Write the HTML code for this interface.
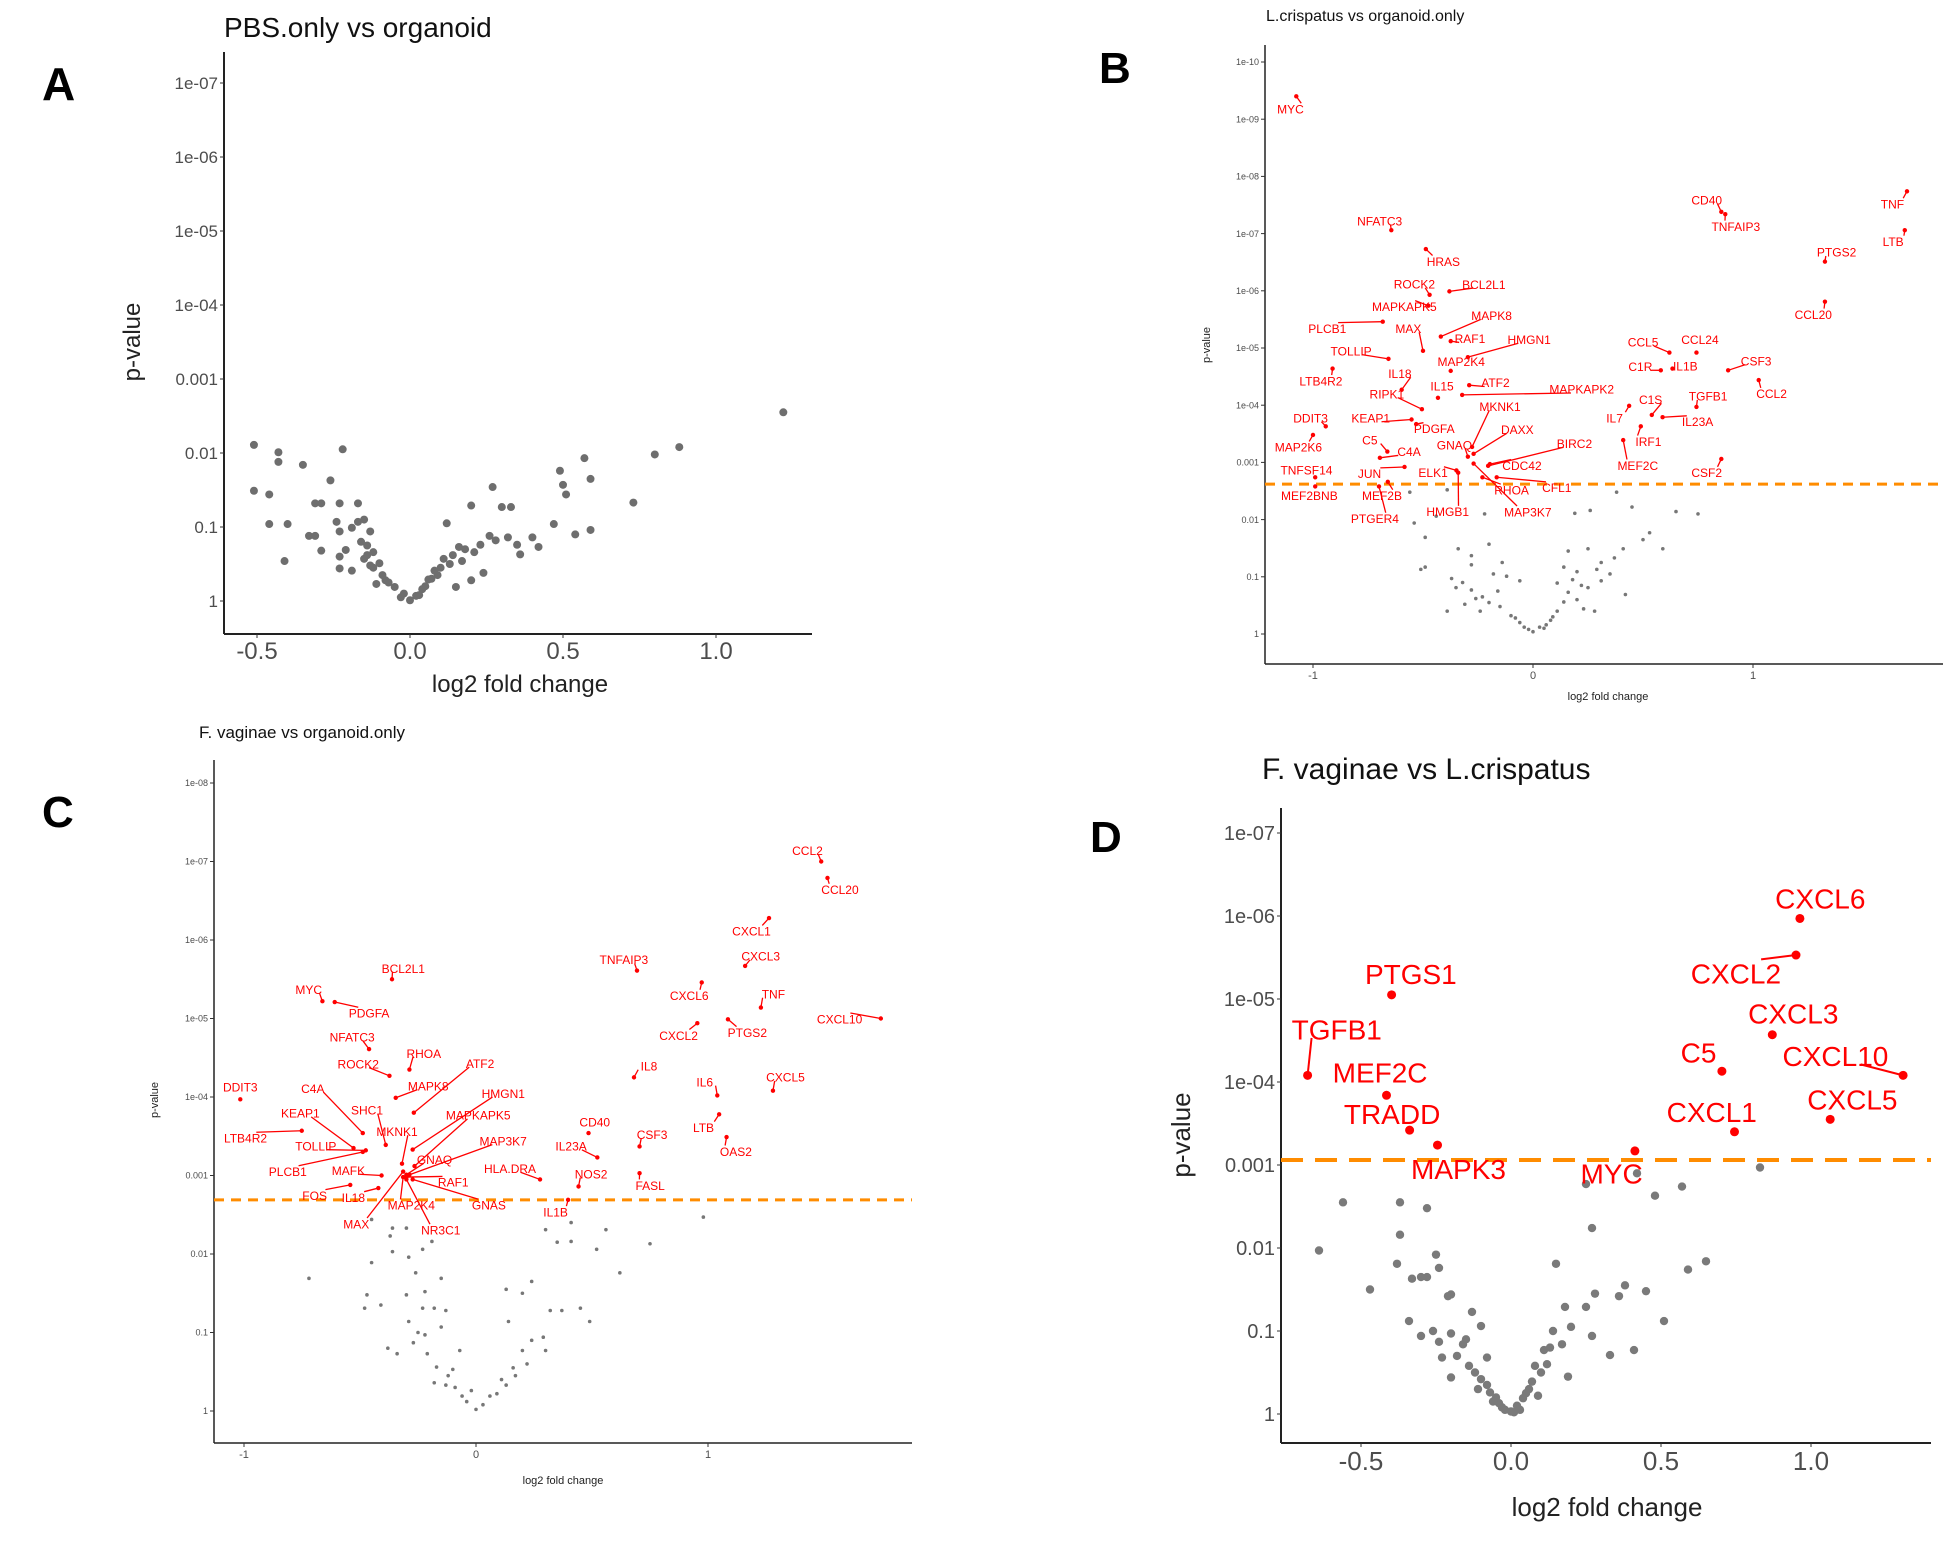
<!DOCTYPE html>
<html><head><meta charset="utf-8">
<style>
html,body{margin:0;padding:0;background:#fff;}
svg{display:block;font-family:"Liberation Sans",Arial,sans-serif;}
</style></head>
<body>
<svg id="fig" width="1950" height="1541" viewBox="0 0 1950 1541" xmlns="http://www.w3.org/2000/svg">
<rect x="0" y="0" width="1950" height="1541" fill="#fff"/>
<text x="42" y="100" font-size="46" font-weight="bold">A</text>
<text x="1099" y="83" font-size="44" font-weight="bold">B</text>
<text x="42" y="827" font-size="44" font-weight="bold">C</text>
<text x="1090" y="852" font-size="44" font-weight="bold">D</text>
<text x="224" y="37" font-size="28" fill="#111">PBS.only vs organoid</text>
<text x="1266" y="21" font-size="16" fill="#111">L.crispatus vs organoid.only</text>
<text x="199" y="738" font-size="17" fill="#111">F. vaginae vs organoid.only</text>
<text x="1262" y="779" font-size="30" fill="#111">F. vaginae vs L.crispatus</text>
</svg>
<script>
// ---------- Panel A data ----------
const aFc = [1.22,0.88,0.8,0.57,0.59,0.49,0.5,0.51,0.73,0.27,0.3,0.33,0.2,0.12,0.47,0.54,0.59,0.26,0.28,0.32,0.35,0.4,0.42,0.36,0.23,0.21,0.16,0.17,0.15,0.2,0.24,0.11,0.08,0.06,0.04,0.02,0,-0.02,-0.05,-0.08,-0.11,-0.1,-0.12,-0.15,-0.13,-0.19,-0.23,-0.21,-0.23,-0.29,-0.31,-0.33,-0.24,-0.23,-0.19,-0.17,-0.15,-0.13,-0.23,-0.17,-0.31,-0.29,-0.26,-0.22,-0.35,-0.43,-0.43,-0.51,-0.51,-0.46,-0.46,-0.4,-0.41,-0.07,-0.09,-0.12,-0.14,0.05,0.07,0.1,0.13,-0.03,0.03,-0.14,-0.16,0.09,0.14,0.18];
const aNlp = [2.55,2.08,1.98,1.93,1.65,1.76,1.57,1.44,1.33,1.54,1.27,1.27,1.29,1.05,1.04,0.9,0.96,0.88,0.82,0.86,0.76,0.86,0.73,0.63,0.76,0.66,0.73,0.54,0.19,0.28,0.38,0.57,0.41,0.29,0.16,0.07,0.01,0.1,0.19,0.28,0.23,0.51,0.66,0.57,0.48,0.41,0.6,0.69,0.44,0.68,0.88,0.88,1.07,0.94,0.99,1.07,1.1,0.94,1.32,1.32,1.32,1.32,1.63,2.05,1.84,2.01,1.88,2.11,1.49,1.44,1.04,1.04,0.54,0.25,0.35,0.45,0.62,0.2,0.3,0.45,0.5,0.05,0.08,0.75,0.8,0.35,0.62,0.7];
const aXTicks = [-0.5,0,0.5,1.0];
const aXTickLabels = ["-0.5","0.0","0.5","1.0"];
const aYTicks = [0,1,2,3,4,5,6,7];
const aYTickLabels = ["1","0.1","0.01","0.001","1e-04","1e-05","1e-06","1e-07"];

// ---------- Panel B data ----------
const bGrayFc = [-0.56,-0.39,0.26,0.19,0.38,0.45,0.65,0.75,-0.49,-0.49,-0.34,-0.28,-0.28,-0.14,-0.12,-0.18,-0.37,-0.35,-0.28,-0.31,-0.23,-0.24,-0.15,-0.1,-0.06,-0.02,0.03,0.08,0.11,0.14,0.16,0.2,0.23,0.28,0.25,0.31,0.29,0.42,0.41,0.5,0.53,0.59,0.25,0.16,0.14,0.37,0.31,-0.54,-0.44,-0.22,-0.2,-0.06,0.11,-0.39,-0.51,0.2,0.0,0.06,-0.08,-0.04,0.05,0.09,-0.2,-0.26,0.18,0.22,-0.32,-0.16,0.35];
const bGrayNlp = [2.48,2.52,2.16,2.11,2.48,2.22,2.14,2.1,1.69,1.17,1.49,1.37,1.21,1.25,1.01,1.05,0.97,0.81,0.77,0.52,0.65,0.4,0.48,0.32,0.2,0.08,0.12,0.24,0.4,0.56,0.73,0.6,0.44,0.4,0.81,0.93,1.13,0.69,1.49,1.65,1.77,1.49,1.49,1.45,1.17,1.33,1.25,1.94,2.06,2.1,1.57,0.93,0.89,0.4,1.13,1.09,0.04,0.16,0.28,0.12,0.1,0.3,0.55,0.62,0.95,0.85,0.9,0.75,1.05];
const bGenes = ["MYC","NFATC3","HRAS","ROCK2","BCL2L1","MAPKAPK5","MAPK8","PLCB1","MAX","RAF1","HMGN1","TOLLIP","MAP2K4","IL18","LTB4R2","IL15","ATF2","MAPKAPK2","RIPK1","MKNK1","DDIT3","KEAP1","PDGFA","DAXX","MAP2K6","C5","C4A","GNAQ","BIRC2","TNFSF14","JUN","ELK1","CDC42","RHOA","CFL1","MEF2BNB","MEF2B","PTGER4","HMGB1","MAP3K7","CD40","TNFAIP3","TNF","LTB","PTGS2","CCL20","CCL5","CCL24","CSF3","C1R","IL1B","CCL2","TGFB1","C1S","IL7","IL23A","IRF1","MEF2C","CSF2"];
const bSigFc = [-1.076,-0.644,-0.487,-0.47,-0.38,-0.476,-0.419,-0.683,-0.5,-0.374,-0.296,-0.657,-0.374,-0.597,-0.911,-0.432,-0.29,-0.322,-0.505,-0.277,-0.942,-0.552,-0.531,-0.27,-1.0,-0.662,-0.696,-0.296,-0.204,-0.99,-0.584,-0.348,-0.196,-0.23,-0.165,-0.99,-0.66,-0.7,-0.34,-0.27,0.856,0.874,1.7,1.69,1.327,1.327,0.62,0.743,0.887,0.581,0.634,1.026,0.743,0.54,0.437,0.589,0.49,0.41,0.856];
const bSigNlp = [9.4,7.06,6.73,5.93,5.99,5.74,5.2,5.46,4.95,5.12,4.84,4.81,4.6,4.27,4.64,4.13,4.35,4.18,3.93,3.27,3.63,3.75,3.67,3.15,3.48,3.19,3.08,3.1,2.94,2.74,2.92,2.86,2.97,2.74,2.74,2.58,2.66,2.58,2.82,2.98,7.38,7.34,7.74,7.06,6.51,5.81,4.92,4.92,4.61,4.61,4.64,4.44,3.97,3.83,3.99,3.79,3.63,3.39,3.06];
const bLabOff = [[-10,28],[-20,-20],[30,27],[-26,-23],[59,-15],[-41,2],[87,-45],[-95,15],[-25,-48],[33,-5],[105,-38],[-64,-17],[18,-20],[-3,-35],[-20,27],[7,-25],[45,-5],[205,-12],[-60,-33],[48,-87],[-26,-18],[-70,-3],[31,10],[75,-52],[-25,27],[-30,-25],[50,-13],[-23,-25],[148,-48],[-15,-15],[-60,15],[-40,5],[55,3],[50,28],[103,23],[-10,20],[-10,30],[-7,70],[-18,85],[93,105],[-25,-25],[18,27],[-25,28],[-20,25],[20,-20],[-20,28],[-45,-22],[6,-28],[48,-20],[-35,-8],[22,-5],[22,30],[20,-23],[-2,-33],[-25,27],[60,10],[13,33],[25,55],[-25,30]];
const bXTicks = [-1,0,1];
const bXTickLabels = ["-1","0","1"];
const bYTicks = [0,1,2,3,4,5,6,7,8,9,10];
const bYTickLabels = ["1","0.1","0.01","0.001","1e-04","1e-05","1e-06","1e-07","1e-08","1e-09","1e-10"];
const bThreshold = [2.62];

// ---------- Panel C data ----------
const cGrayFc = [-0.72,-0.45,-0.36,-0.36,-0.29,-0.23,-0.26,-0.15,-0.47,-0.48,-0.41,-0.3,-0.22,-0.23,-0.18,-0.13,-0.29,-0.15,-0.38,-0.34,-0.27,-0.21,-0.07,-0.17,-0.1,-0.13,-0.06,0,0.06,0.13,0.17,0.22,0.2,0.29,0.3,0.14,0.32,0.37,0.45,0.49,0.13,0.2,0.24,0.62,0.75,0.52,0.35,0.41,0.3,0.56,0.41,0.98,-0.37,-0.19,-0.3,-0.45,-0.22,-0.02,-0.18,-0.09,-0.04,0.03,0.09,0.11,-0.12,-0.25,0.24,0.16];
const cGrayNlp = [1.69,1.89,2.33,2.03,1.96,2.06,1.76,1.69,1.48,1.31,1.35,1.48,1.52,1.31,1.31,1.28,1.14,1.07,0.8,0.73,0.87,0.73,0.77,0.56,0.53,0.33,0.19,0.02,0.19,0.33,0.45,0.6,0.77,0.94,0.77,1.14,1.28,1.28,1.31,1.14,1.55,1.5,1.65,1.76,2.13,2.06,2.15,2.16,2.31,2.31,2.4,2.47,2.23,2.16,2.33,2.44,0.97,0.26,0.36,0.3,0.12,0.08,0.22,0.4,0.45,1.0,0.9,0.55];
const cGenes = ["CCL2","CCL20","CXCL1","CXCL3","TNFAIP3","CXCL6","TNF","CXCL10","PTGS2","CXCL2","IL8","IL6","CXCL5","LTB","OAS2","CD40","CSF3","IL23A","NOS2","FASL","IL1B","HLA.DRA","BCL2L1","MYC","PDGFA","NFATC3","ROCK2","RHOA","ATF2","MAPK8","HMGN1","DDIT3","C4A","MAPKAPK5","KEAP1","SHC1","MKNK1","MAP3K7","LTB4R2","TOLLIP","GNAQ","PLCB1","MAFK","RAF1","FOS","IL18","MAP2K4","GNAS","MAX","NR3C1"];
const cSigFc = [1.488,1.515,1.263,1.16,0.694,0.973,1.228,1.745,1.086,0.954,0.681,1.04,1.28,1.048,1.08,0.485,0.705,0.523,0.442,0.705,0.397,0.276,-0.362,-0.662,-0.609,-0.461,-0.373,-0.287,-0.268,-0.346,-0.273,-1.016,-0.488,-0.265,-0.528,-0.389,-0.319,-0.287,-0.751,-0.475,-0.3,-0.488,-0.407,-0.3,-0.542,-0.421,-0.314,-0.273,-0.314,-0.3];
const cSigNlp = [7.0,6.79,6.28,5.67,5.61,5.46,5.14,5.0,4.99,4.94,4.25,4.02,4.08,3.78,3.49,3.54,3.37,3.23,2.86,3.03,2.69,2.95,5.5,5.22,5.21,4.61,4.27,4.35,3.8,3.99,3.33,3.97,3.54,3.12,3.35,3.39,3.15,3.01,3.57,3.32,3.01,3.3,3.0,2.98,2.88,2.84,2.98,2.95,3.05,2.95];
const cLabOff = [[-22,-20],[20,22],[-28,25],[25,-18],[-21,-20],[-20,25],[20,-25],[-66,1],[31,25],[-30,23],[24,-21],[-20,-25],[20,-25],[-25,25],[15,27],[10,-20],[20,-22],[-42,-21],[20,-23],[17,23],[-20,23],[-48,-20],[18,-20],[-22,-22],[55,21],[-27,-22],[-50,-22],[23,-30],[106,-92],[52,-22],[145,-105],[0,-23],[-80,-83],[102,-95],[-85,-65],[-30,-65],[-8,-60],[150,-63],[-90,14],[-80,-8],[45,-28],[-120,37],[-53,-9],[75,10],[-57,20],[-40,18],[13,53],[122,48],[-75,98],[55,95]];
const cXTicks = [-1,0,1];
const cXTickLabels = ["-1","0","1"];
const cYTicks = [0,1,2,3,4,5,6,7,8];
const cYTickLabels = ["1","0.1","0.01","0.001","1e-04","1e-05","1e-06","1e-07","1e-08"];
const cThreshold = [2.69];

// ---------- Panel D data ----------
const dGrayFc = [-0.56,-0.64,-0.47,-0.37,-0.37,-0.38,-0.28,-0.25,-0.24,-0.33,-0.3,-0.28,-0.2,-0.21,-0.34,-0.3,-0.24,-0.2,-0.13,-0.1,-0.16,-0.23,-0.2,-0.14,-0.08,-0.1,-0.07,-0.04,0,0.04,0.07,0.08,0.11,0.14,0.17,0.19,0.18,0.25,0.28,0.27,0.33,0.41,0.36,0.38,0.45,0.51,0.15,0.27,0.48,0.57,0.59,0.65,0.25,0.83,0.42,-0.05,0.05,-0.12,0.1,-0.18,0.12,-0.02,0.02,-0.08,0.06,-0.15,-0.06,0.03,0.09,-0.11,0.13,-0.26,0.2,-0.03,0.01];
const dGrayNlp = [2.55,1.97,1.5,2.55,2.16,1.81,2.48,1.92,1.76,1.63,1.65,1.65,1.44,1.42,1.12,0.94,0.87,0.97,1.23,1.06,0.84,0.68,0.44,0.58,0.68,0.42,0.26,0.13,0.03,0.19,0.39,0.58,0.77,1.0,0.84,0.45,1.29,1.29,1.45,0.94,0.71,0.77,1.42,1.55,1.48,1.12,1.81,2.24,2.63,2.74,1.74,1.84,2.77,2.97,2.9,0.2,0.25,0.5,0.5,0.7,0.6,0.05,0.1,0.35,0.3,0.9,0.15,0.05,0.22,0.3,0.8,1.0,1.05,0.08,0.02];
const dGenes = ["CXCL6","CXCL2","CXCL3","C5","CXCL10","CXCL5","CXCL1","MYC","PTGS1","TGFB1","MEF2C","TRADD","MAPK3"];
const dSigFc = [0.963,0.95,0.871,0.703,1.307,1.064,0.745,0.413,-0.398,-0.678,-0.415,-0.338,-0.245];
const dSigNlp = [5.97,5.53,4.57,4.13,4.08,3.55,3.4,3.17,5.05,4.08,3.84,3.42,3.24];
const dLabOff = [[35,-37],[-103,34],[36,-39],[-40,-35],[-116,-36],[38,-37],[-39,-37],[-40,42],[33,-39],[50,-85],[-11,-42],[-30,-30],[36,44]];
const dXTicks = [-0.5,0,0.5,1.0];
const dXTickLabels = ["-0.5","0.0","0.5","1.0"];
const dYTicks = [0,1,2,3,4,5,6,7];
const dYTickLabels = ["1","0.1","0.01","0.001","1e-04","1e-05","1e-06","1e-07"];
const dThreshold = [3.06];

const NS = "http://www.w3.org/2000/svg";
const svg = document.getElementById("fig");
function mk(tag, attrs, parent, txt){
  const e = document.createElementNS(NS, tag);
  for (const k in attrs) e.setAttribute(k, attrs[k]);
  if (txt !== undefined) e.textContent = txt;
  (parent || svg).appendChild(e);
  return e;
}

function drawPanel(P){
  const g = mk("g", {});
  
  
  const sx = v => P.x0 + v * P.xu;
  const sy = v => P.y0 - v * P.yu;
  const ya = mk("line", {x1:P.left, y1:P.top, x2:P.left, y2:P.bottom, stroke:"#222", "stroke-width":P.aw}, g);
  
  
  const xa = mk("line", {x1:P.left, y1:P.bottom, x2:P.right, y2:P.bottom, stroke:"#222", "stroke-width":P.aw}, g);
  
  
  P.yTicks.forEach((t, i) => {
    const y = sy(t);
    mk("line", {x1:P.left-4, y1:y, x2:P.left, y2:y, stroke:"#333", "stroke-width":1}, g);
    const tl = mk("text", {x:P.left-6, y:y + P.ytf*0.35, "font-size":P.ytf, fill:"#4d4d4d", "text-anchor":"end"}, g, P.yLabels[i]);
    
    
  });
  P.xTicks.forEach((t, i) => {
    const x = sx(t);
    mk("line", {x1:x, y1:P.bottom, x2:x, y2:P.bottom+4, stroke:"#333", "stroke-width":1}, g);
    const tl = mk("text", {x:x, y:P.bottom + 6 + P.xtf*0.8, "font-size":P.xtf, fill:"#4d4d4d", "text-anchor":"middle"}, g, P.xLabels[i]);
    
    
  });
  const xt = mk("text", {x:P.xtx, y:P.xty, "font-size":P.atf, fill:"#222", "text-anchor":"middle"}, g, "log2 fold change");
  
  
  const yt = mk("text", {x:0, y:0, "font-size":P.atf, fill:"#222", "text-anchor":"middle", transform:"translate(" + P.ytx + "," + P.yty + ") rotate(-90)"}, g, "p-value");
  
  
  if (P.thr) {
    const y = sy(P.thr[0]);
    const th = mk("line", {x1:P.left, y1:y, x2:P.right, y2:y, stroke:"#ff8c00", "stroke-width":P.tw, "stroke-dasharray":P.dash}, g);
    
    
  }
  P.gFc.forEach((f, i) => {
    const c = mk("circle", {cx:sx(f), cy:sy(P.gNlp[i]), r:P.gr, fill:P.gcol}, g);
    
    
  });
  if (P.sFc) P.sFc.forEach((f, i) => {
    const cx = sx(f), cy = sy(P.sNlp[i]);
    const lx = cx + P.off[i][0] / P.zx, ly = cy + P.off[i][1] / P.zy;
    if (Math.hypot(lx - cx, ly - cy) > P.lead) {
      const ll = mk("line", {x1:cx, y1:cy, x2:lx - Math.sign(lx-cx)*P.lf*0.9, y2:ly + (ly>cy? -P.lf*0.5 : P.lf*0.3), stroke:"#f00", "stroke-width":P.lw}, g);
      
      
    }
    const c = mk("circle", {cx:cx, cy:cy, r:P.sr, fill:"#f00"}, g);
    
    
    const t = mk("text", {x:lx, y:ly + P.lf*0.36, "font-size":P.lf, fill:"#f00", "text-anchor":"middle"}, g, P.genes[i]);
    
    
  });
}

drawPanel({id:"panel-a", x0:410, xu:306, y0:601, yu:74, left:224, right:812, top:52, bottom:634, aw:2,
  yTicks:aYTicks, yLabels:aYTickLabels, xTicks:aXTicks, xLabels:aXTickLabels, ytf:17, xtf:24, atf:24,
  xtx:520, xty:692, ytx:140, yty:342, gFc:aFc, gNlp:aNlp, gr:4, gcol:"#6e6e6e"});
drawPanel({id:"panel-b", x0:1533, xu:220, y0:634, yu:57.2, left:1265, right:1943, top:45, bottom:664, aw:1.5,
  yTicks:bYTicks, yLabels:bYTickLabels, xTicks:bXTicks, xLabels:bXTickLabels, ytf:9, xtf:11, atf:11,
  xtx:1608, xty:700, ytx:1210, yty:345, thr:bThreshold, tw:3, dash:"10,7",
  gFc:bGrayFc, gNlp:bGrayNlp, gr:1.8, gcol:"#777",
  sFc:bSigFc, sNlp:bSigNlp, genes:bGenes, off:bLabOff, zx:1.714, zy:2.167, sr:2.2, lf:12, lw:1.3, lead:14});
drawPanel({id:"panel-c", x0:476, xu:232, y0:1411, yu:78.5, left:214, right:912, top:760, bottom:1443, aw:1.5,
  yTicks:cYTicks, yLabels:cYTickLabels, xTicks:cXTicks, xLabels:cXTickLabels, ytf:9, xtf:11, atf:11,
  xtx:563, xty:1484, ytx:158, yty:1100, thr:cThreshold, tw:3, dash:"10,7",
  gFc:cGrayFc, gNlp:cGrayNlp, gr:1.8, gcol:"#777",
  sFc:cSigFc, sNlp:cSigNlp, genes:cGenes, off:cLabOff, zx:1.6, zy:1.87, sr:2.2, lf:12, lw:1.3, lead:14});
drawPanel({id:"panel-d", x0:1511, xu:300, y0:1414, yu:83, left:1281, right:1931, top:808, bottom:1443, aw:2,
  yTicks:dYTicks, yLabels:dYTickLabels, xTicks:dXTicks, xLabels:dXTickLabels, ytf:20, xtf:26, atf:26,
  xtx:1607, xty:1516, ytx:1190, yty:1135, thr:dThreshold, tw:4, dash:"22,12",
  gFc:dGrayFc, gNlp:dGrayNlp, gr:4.2, gcol:"#7a7a7a",
  sFc:dSigFc, sNlp:dSigNlp, genes:dGenes, off:dLabOff, zx:1.714, zy:1.855, sr:4.5, lf:28, lw:2, lead:40});
</script>
</body></html>
